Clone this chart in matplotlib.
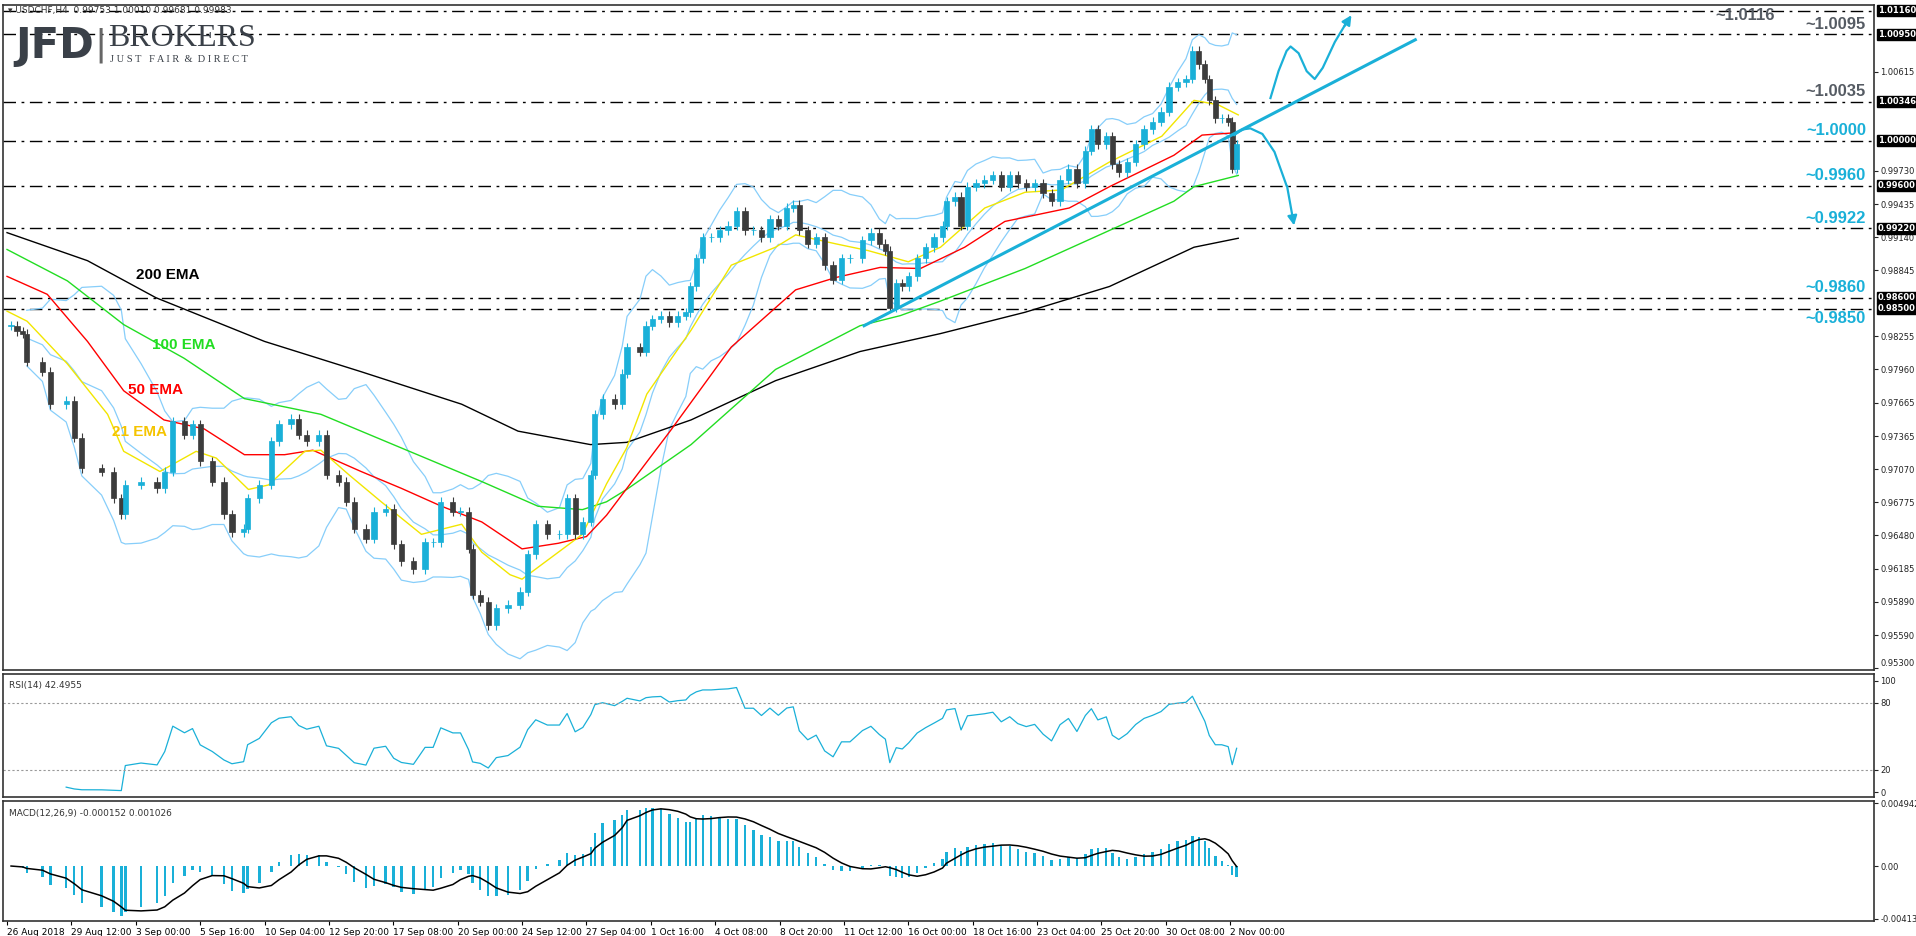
import numpy as np
import pandas as pd
import matplotlib
matplotlib.use("Agg")
import matplotlib.pyplot as plt

# closes (bar = H4 bar number since 26 Aug 2018)
close_bar = [
    1.0, 2.5, 3.9, 4.9, 8.8, 10.8, 14.7, 16.7, 18.6, 23.5, 26.5, 28.4, 29.4, 33.3, 37.3, 39.2,
    41.2, 44.1, 46.1, 48.0, 51.0, 53.9, 55.9, 58.8, 59.8, 62.7, 65.7, 67.6, 70.6, 72.5, 74.5,
    77.5, 79.4, 82.4, 84.3, 86.3, 89.2, 91.2, 94.1, 96.1, 98.0, 101.0, 103.9, 105.9, 107.8,
    110.8, 112.7, 114.7, 115.7, 117.6, 119.6, 121.6, 124.5, 127.5, 129.4, 131.4, 134.3, 137.3,
    139.2, 141.2, 143.1, 145.1, 146.1, 148.0, 151.0, 152.9,
    154.1, 157.3, 158.8, 160.4, 162.5, 164.6, 166.7, 168.7, 169.8, 171.3, 172.9, 175.0, 177.1,
    179.2, 181.3, 183.4, 185.5, 187.5, 189.6, 191.7, 193.8, 195.4, 196.9, 199.0, 201.1, 203.2,
    205.3, 207.4, 209.5, 212.6, 214.7, 216.8, 218.3, 219.4, 221.0, 222.5, 224.1, 226.2, 228.3,
    230.4, 232.5, 233.5, 235.6, 237.1, 238.7, 240.8, 242.9, 245.0, 247.1, 249.2, 251.2, 253.3,
    255.4, 257.5, 259.6, 261.7, 263.8, 265.9, 268.0, 269.5, 271.1, 273.2, 274.7, 276.3, 278.4,
    280.5, 282.6, 284.7, 286.8, 288.8, 290.9, 293.0, 294.6, 296.2, 297.7, 298.8, 300.3, 301.9,
    303.5, 304.5, 305.6,
]
closes = [
    0.9835, 0.9830, 0.9828, 0.9803, 0.9794, 0.9765, 0.9768, 0.9735, 0.9708, 0.9705, 0.9681,
    0.9667, 0.9693, 0.9696, 0.9690, 0.9705, 0.9750, 0.9738, 0.9747, 0.9714, 0.9696, 0.9667,
    0.9651, 0.9654, 0.9681, 0.9693, 0.9732, 0.9747, 0.9752, 0.9738, 0.9732, 0.9738, 0.9702,
    0.9696, 0.9678, 0.9654, 0.9645, 0.9669, 0.9672, 0.9640, 0.9625, 0.9618, 0.9642, 0.9642,
    0.9678, 0.9669, 0.9669, 0.9636, 0.9595, 0.9589, 0.9568, 0.9583, 0.9586, 0.9598, 0.9631,
    0.9658, 0.9649, 0.9649, 0.9681, 0.9649, 0.9660, 0.9702, 0.9756, 0.9770, 0.9765, 0.9792,
    0.9816, 0.9812, 0.9835, 0.9841, 0.9844, 0.9838, 0.9844, 0.9847, 0.9870, 0.9895, 0.9914,
    0.9914, 0.9920, 0.9924, 0.9937, 0.9920, 0.9920, 0.9914, 0.9930, 0.9924, 0.9940, 0.9943,
    0.9920, 0.9908, 0.9914, 0.9889, 0.9876, 0.9895, 0.9895, 0.9911, 0.9918, 0.9908, 0.9902,
    0.9851, 0.9873, 0.9870, 0.9879, 0.9895, 0.9905, 0.9914, 0.9924, 0.9946, 0.9950, 0.9924,
    0.9959, 0.9962, 0.9965, 0.9969, 0.9959, 0.9969, 0.9962, 0.9959, 0.9962, 0.9953, 0.9946,
    0.9965, 0.9975, 0.9962, 0.9991, 1.0010, 0.9997, 1.0004, 0.9979, 0.9972, 0.9981, 0.9997,
    1.0010, 1.0017, 1.0026, 1.0048, 1.0052, 1.0055, 1.0080, 1.0068, 1.0055, 1.0036, 1.0020,
    1.0020, 1.0017, 0.9975, 0.9997,
]

# moving averages as drawn (bar, price)
ema200_bar = [0, 20, 37, 64, 88, 113, 127, 145, 154, 170, 191, 212, 232, 253, 274, 295, 306]
ema200 = [0.9918, 0.9893, 0.9860, 0.9821, 0.9794, 0.9765, 0.9741, 0.9729, 0.9731, 0.9751,
          0.9786, 0.9812, 0.9828, 0.9847, 0.9870, 0.9905, 0.9913]
ema100_bar = [0, 15, 29, 44, 59, 78, 98, 118, 132, 143, 149, 154, 170, 191, 212, 222, 232, 253, 274, 290, 295, 306]
ema100 = [0.9903, 0.9875, 0.9836, 0.9806, 0.9770, 0.9756, 0.9726, 0.9696, 0.9674, 0.9671,
          0.9678, 0.9689, 0.9729, 0.9796, 0.9835, 0.9844, 0.9857, 0.9886, 0.9920, 0.9946, 0.9959, 0.9969]
ema50_bar = [0, 10, 20, 29, 39, 49, 59, 69, 76, 88, 98, 108, 118, 128, 137, 144, 149, 165, 180,
             196, 206, 217, 227, 238, 248, 264, 274, 290, 297, 305]
ema50 = [0.9879, 0.9863, 0.9821, 0.9777, 0.9751, 0.9743, 0.9720, 0.9720, 0.9724, 0.9705,
         0.9690, 0.9674, 0.9660, 0.9636, 0.9641, 0.9647, 0.9666, 0.9742, 0.9816, 0.9867,
         0.9878, 0.9887, 0.9886, 0.9905, 0.9928, 0.9940, 0.9959, 0.9987, 1.0005, 1.0007]
ema21_bar = [0, 5, 15, 25, 29, 38, 47, 52, 60, 65, 74, 78, 85, 93, 103, 113, 118, 125, 128, 137,
             143, 149, 154, 159, 170, 180, 191, 196, 206, 214, 224, 232, 243, 253, 262, 274, 287,
             295, 301, 306]
ema21 = [0.9848, 0.9839, 0.9801, 0.9756, 0.9723, 0.9705, 0.9723, 0.9717, 0.9689, 0.9693,
         0.9723, 0.9724, 0.9702, 0.9678, 0.9649, 0.9658, 0.9633, 0.9613, 0.9609, 0.9633,
         0.9649, 0.9694, 0.9726, 0.9774, 0.9831, 0.9889, 0.9905, 0.9916, 0.9908, 0.9902,
         0.9892, 0.9905, 0.9940, 0.9954, 0.9956, 0.9981, 1.0004, 1.0036, 1.0032, 1.0023]

levels = [1.0116, 1.0095, 1.00346, 1.0000, 0.9960, 0.9922, 0.9860, 0.9850]
level_tags = ["1.01160", "1.00950", "1.00346", "1.00000", "0.99600", "0.99220", "0.98600", "0.98500"]
level_text = ["~1.0116", "~1.0095", "~1.0035", "~1.0000", "~0.9960", "~0.9922", "~0.9860", "~0.9850"]
price_ticks = [1.00615, 0.99730, 0.99435, 0.99140, 0.98845, 0.98255, 0.97960, 0.97665, 0.97365,
               0.97070, 0.96775, 0.96480, 0.96185, 0.95890, 0.95590, 0.95300]
date_labels = ["26 Aug 2018", "29 Aug 12:00", "3 Sep 00:00", "5 Sep 16:00", "10 Sep 04:00",
               "12 Sep 20:00", "17 Sep 08:00", "20 Sep 00:00", "24 Sep 12:00", "27 Sep 04:00",
               "1 Oct 16:00", "4 Oct 08:00", "8 Oct 20:00", "11 Oct 12:00", "16 Oct 00:00",
               "18 Oct 16:00", "23 Oct 04:00", "25 Oct 20:00", "30 Oct 08:00", "2 Nov 00:00"]

CYAN = "#1ab0d8"
GRAY_TXT = "#555b63"
W, H = 1916, 936

c = pd.Series(closes)
x = np.array(close_bar)
opens = c.shift(1).fillna(c.iloc[0])

fig = plt.figure(figsize=(W / 100, H / 100), dpi=100)
L, R = 3 / W, 1874 / W


def box(top, bot):
    return [L, 1 - bot / H, R - L, (bot - top) / H]


ax = fig.add_axes(box(5, 670))
ax_rsi = fig.add_axes(box(674, 797), sharex=ax)
ax_macd = fig.add_axes(box(801, 921), sharex=ax)

for a in (ax, ax_rsi, ax_macd):
    a.yaxis.tick_right()
    a.tick_params(axis="y", labelsize=6, length=3, pad=1.5, colors="#222222")
    a.tick_params(axis="x", length=0, labelbottom=False)
    for s in a.spines.values():
        s.set_color("#333333")
        s.set_linewidth(1.2)
ax.set_xlim(-1, 464)

# candles
for xi, o, cl in zip(x, opens, c):
    up = cl >= o
    col = CYAN if up else "#3c3c3c"
    lo, hi = min(o, cl), max(o, cl)
    ax.vlines(xi, lo - 0.0004, hi + 0.0004, color=col, lw=0.8, zorder=3)
    ax.bar(xi, max(hi - lo, 0.00004), bottom=lo, width=1.3, color=col,
           edgecolor=col, lw=0.5, zorder=4)

# bollinger bands
mid = c.rolling(10, min_periods=4).mean()
sd = c.rolling(10, min_periods=4).std(ddof=0)
for band in (mid + 2 * sd, mid, mid - 2 * sd):
    ax.plot(x, band, color="#87cefa", lw=0.9, zorder=2)

ax.plot(ema200_bar, ema200, color="black", lw=1.0, zorder=2)
ax.plot(ema100_bar, ema100, color="#22dd22", lw=1.0, zorder=2)
ax.plot(ema50_bar, ema50, color="red", lw=1.0, zorder=2)
ax.plot(ema21_bar, ema21, color="#f2e600", lw=1.0, zorder=2)

lab = dict(fontsize=11, fontweight="bold", family="Liberation Sans", va="center")
ax.text(32, 0.9880, "200 EMA", color="black", **lab)
ax.text(36, 0.9818, "100 EMA", color="#22dd22", **lab)
ax.text(30, 0.9778, "50 EMA", color="red", **lab)
ax.text(26, 0.9740, "21 EMA", color="#f5c400", **lab)

# support / resistance levels
for i, (lv, tag, txt) in enumerate(zip(levels, level_tags, level_text)):
    ax.axhline(lv, color="black", lw=1.0, ls=(0, (9, 4, 2, 4)), zorder=1)
    ax.text(1.002, lv, tag, transform=ax.get_yaxis_transform(), fontsize=6, color="white",
            va="center", ha="left", fontweight="bold",
            bbox=dict(boxstyle="square,pad=0.12", fc="black", ec="black"))
    col = GRAY_TXT if i < 3 else CYAN
    kw = dict(color=col, fontsize=12, fontweight="bold", family="Liberation Sans", va="center")
    if i == 0:
        ax.text(432, lv - 0.00045, txt, ha="center", **kw)
    elif i == 7:
        ax.text(462, lv - 0.0009, txt, ha="right", **kw)
    else:
        ax.text(462, lv + 0.0009, txt, ha="right", **kw)

ax.set_yticks(price_ticks)
ax.set_yticklabels([f"{p:.5f}" for p in price_ticks])
ax.get_yticklabels()[-1].set_va("bottom")
ax.set_ylim(0.9528, 1.0121)

# trend line and scenario arrows
ax.plot([213, 350], [0.9835, 1.0090], color=CYAN, lw=2.2, zorder=5)
ax.plot([314, 316, 318, 319, 321, 323, 325, 327, 330, 332.5],
        [1.0038, 1.0062, 1.0080, 1.0084, 1.0078, 1.0062, 1.0055, 1.0065, 1.0088, 1.0103],
        color=CYAN, lw=1.6, zorder=5)
ax.annotate("", xy=(334.5, 1.0114), xytext=(332, 1.0100),
            arrowprops=dict(arrowstyle="-|>", color=CYAN, lw=1.6, mutation_scale=14))
ax.plot([305, 307, 309, 312, 315, 318], [1.0005, 1.0010, 1.0011, 1.0006, 0.9990, 0.9960],
        color=CYAN, lw=1.6, zorder=5)
ax.annotate("", xy=(320, 0.9922), xytext=(318, 0.9962),
            arrowprops=dict(arrowstyle="-|>", color=CYAN, lw=1.6, mutation_scale=14))

# RSI
delta = c.diff()
gain = delta.clip(lower=0).ewm(alpha=1 / 7, adjust=False).mean()
loss = (-delta.clip(upper=0)).ewm(alpha=1 / 7, adjust=False).mean()
rsi = 100 - 100 / (1 + gain / loss)
rsi.iloc[:6] = np.nan
ax_rsi.plot(x, rsi, color=CYAN, lw=0.9)
for lv in (80, 20):
    ax_rsi.axhline(lv, color="#999999", lw=0.8, ls=(0, (2, 2)))
ax_rsi.set_ylim(-4.4, 106)
ax_rsi.set_yticks([100, 80, 20, 0])
ax_rsi.text(0.003, 0.94, "RSI(14) 42.4955", transform=ax_rsi.transAxes, fontsize=6.5, va="top", color="#333333")

# MACD
macd = c.ewm(span=6, adjust=False).mean() - c.ewm(span=13, adjust=False).mean()
signal = macd.rolling(5, min_periods=1).mean()
ax_macd.bar(x, macd, width=0.6, color=CYAN, lw=0)
ax_macd.plot(x, signal, color="black", lw=1.1)
ax_macd.set_ylim(-0.00431, 0.0051)
ax_macd.set_yticks([0.004942, 0.0, -0.00413])
ax_macd.set_yticklabels(["0.004942", "0.00", "-0.00413"])
ax_macd.text(0.003, 0.93, "MACD(12,26,9) -0.000152 0.001026", transform=ax_macd.transAxes,
             fontsize=6.5, va="top", color="#333333")

# date labels
ax_macd.set_xticks(np.arange(len(date_labels)) * 16)
ax_macd.set_xticklabels(date_labels)
ax_macd.tick_params(axis="x", labelbottom=True, labelsize=6.5, pad=2, length=3, direction="out")
for t in ax_macd.get_xticklabels():
    t.set_ha("left")

# header and logo
fig.text(8 / W, 1 - 11 / H, "\u25be USDCHF,H4  0.99753 1.00010 0.99681 0.99983", fontsize=6.5,
         color="#333333", va="center")
fig.text(15 / W, 1 - 46 / H, "JFD", fontsize=30, fontweight="bold", color="#3a4048", va="center")
fig.text(94 / W, 1 - 45 / H, "|", fontsize=26, color="#666666", va="center")
fig.text(108 / W, 1 - 39 / H, "BROKERS", fontsize=23, family="Liberation Serif", color="#3a4048", va="center")
fig.text(110 / W, 1 - 59 / H, "J U S T   F A I R  &  D I R E C T", fontsize=7.5, family="Liberation Serif",
         color="#3a4048", va="center")

fig.savefig("out.png", dpi=100)
